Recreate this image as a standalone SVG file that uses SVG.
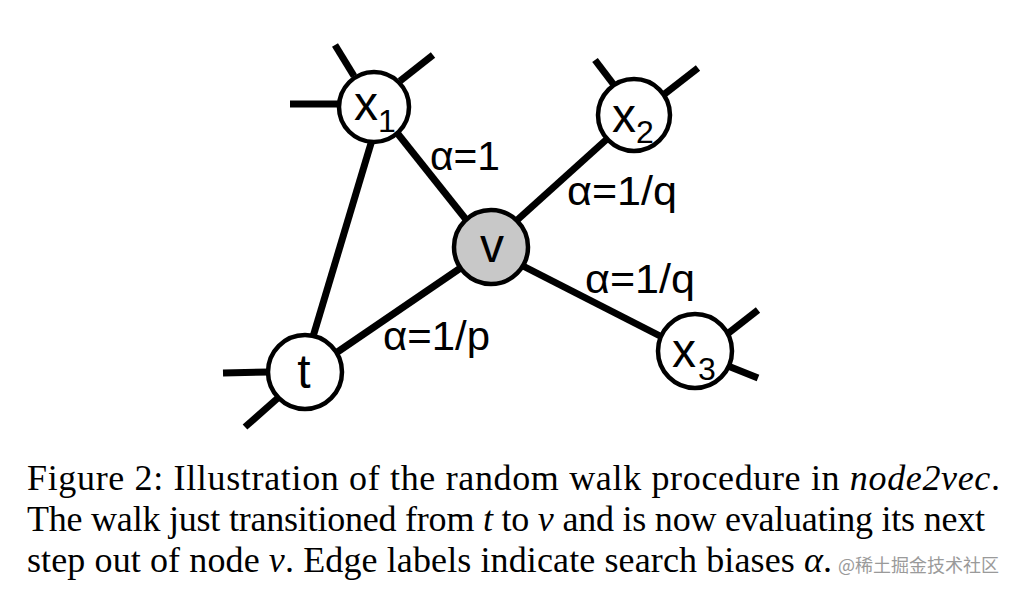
<svg xmlns="http://www.w3.org/2000/svg" width="1020" height="593" viewBox="0 0 1020 593">
<style>
.e{stroke:#000;stroke-width:7;stroke-linecap:butt;fill:none}
.n{fill:#fff;stroke:#000;stroke-width:4.5}
.nv{fill:#c8c8c8;stroke:#000;stroke-width:4.5}
.lab{font-family:"Liberation Sans",Arial,sans-serif;font-size:48px;fill:#000}
.sub{font-family:"Liberation Sans",Arial,sans-serif;font-size:32px;fill:#000}
.el{font-family:"Liberation Sans",Arial,sans-serif;font-size:40px;fill:#000}
.cap{font-family:"Liberation Serif","Times New Roman",serif;font-size:36px;fill:#000}
.wm{font-family:"Noto Sans CJK SC",sans-serif;font-size:18px;fill:#9a9a9a}
</style>
<rect width="1020" height="593" fill="#fff"/>
<g id="connectors">
<line class="e" x1="372" y1="140" x2="312" y2="340"/>
<line class="e" x1="398" y1="134" x2="468" y2="222"/>
<line class="e" x1="607" y1="139" x2="515" y2="222"/>
<line class="e" x1="462" y1="267" x2="336" y2="353"/>
<line class="e" x1="523" y1="266" x2="664" y2="338"/>
<line class="e" x1="335" y1="45" x2="354" y2="76"/>
<line class="e" x1="433" y1="55" x2="400" y2="81"/>
<line class="e" x1="290" y1="104" x2="340" y2="104"/>
<line class="e" x1="595" y1="60" x2="614" y2="85"/>
<line class="e" x1="698" y1="68" x2="662" y2="96"/>
<line class="e" x1="223" y1="373" x2="270" y2="372"/>
<line class="e" x1="245" y1="427" x2="279" y2="397"/>
<line class="e" x1="758" y1="310" x2="726" y2="335"/>
<line class="e" x1="758" y1="378" x2="728" y2="366"/>
</g>
<g id="label-a1"><text class="el" x="430" y="170" textLength="70" lengthAdjust="spacingAndGlyphs">α=1</text></g>
<g id="label-a2"><text class="el" x="567" y="205" textLength="110" lengthAdjust="spacingAndGlyphs">α=1/q</text></g>
<g id="label-a3"><text class="el" x="585" y="293" textLength="110" lengthAdjust="spacingAndGlyphs">α=1/q</text></g>
<g id="label-ap"><text class="el" x="383" y="350" textLength="107" lengthAdjust="spacingAndGlyphs">α=1/p</text></g>
<g id="node-x1"><circle class="n" cx="374" cy="107" r="35"/><text class="lab" x="354" y="120">x</text><text class="sub" x="378" y="132">1</text></g>
<g id="node-x2"><circle class="n" cx="634" cy="115" r="36"/><text class="lab" x="612" y="132">x</text><text class="sub" x="636" y="143">2</text></g>
<g id="node-v"><circle class="nv" cx="491" cy="247" r="37"/><text class="lab" x="492" y="262" text-anchor="middle">v</text></g>
<g id="node-t"><circle class="n" cx="305" cy="372" r="37"/><text class="lab" x="304" y="388" text-anchor="middle">t</text></g>
<g id="node-x3"><circle class="n" cx="695" cy="351" r="37"/><text class="lab" x="672" y="367">x</text><text class="sub" x="698" y="380">3</text></g>
<g id="caption">
<text class="cap" x="27" y="490" textLength="973" lengthAdjust="spacing">Figure 2: Illustration of the random walk procedure in <tspan font-style="italic">node2vec</tspan>.</text>
<text class="cap" x="27" y="531" textLength="958" lengthAdjust="spacing">The walk just transitioned from <tspan font-style="italic">t</tspan> to <tspan font-style="italic">v</tspan> and is now evaluating its next</text>
<text class="cap" x="27" y="572" textLength="805" lengthAdjust="spacing">step out of node <tspan font-style="italic">v</tspan>. Edge labels indicate search biases <tspan font-style="italic">α</tspan>.</text>
<text class="wm" x="838" y="572">@稀土掘金技术社区</text>
</g>
</svg>
